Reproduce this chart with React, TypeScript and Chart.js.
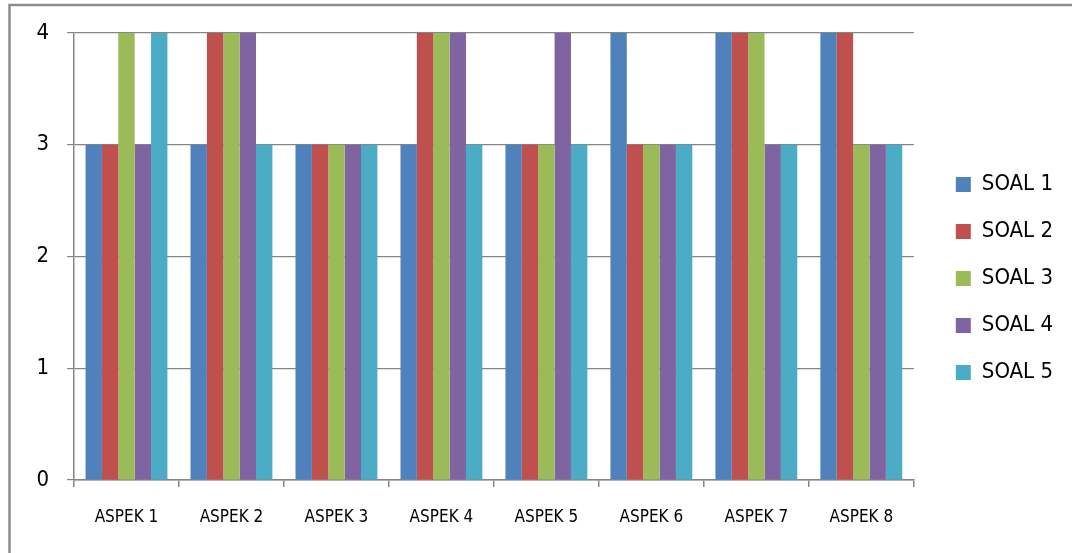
import React, { useEffect, useRef } from "react";
import { Chart, registerables } from "chart.js";

Chart.register(...registerables);

const categories = ["ASPEK 1", "ASPEK 2", "ASPEK 3", "ASPEK 4", "ASPEK 5", "ASPEK 6", "ASPEK 7", "ASPEK 8"];
const seriesNames = ["SOAL 1", "SOAL 2", "SOAL 3", "SOAL 4", "SOAL 5"];
const soal1 = [3, 3, 3, 3, 3, 4, 4, 4];
const soal2 = [3, 4, 3, 4, 3, 3, 4, 4];
const soal3 = [4, 4, 3, 4, 3, 3, 4, 3];
const soal4 = [3, 4, 3, 4, 4, 3, 3, 3];
const soal5 = [4, 3, 3, 3, 3, 3, 3, 3];
const yTicks = [0, 1, 2, 3, 4];

const colors = ["#4F81BD", "#C0504D", "#9BBB59", "#8064A2", "#4BACC6"];
const FONT = "'DejaVu Sans Condensed', 'Liberation Sans Narrow', sans-serif";
const W = 1072;
const H = 553;

const framePlugin = {
  id: "frame",
  beforeDraw(chart: any) {
    const ctx = chart.ctx;
    ctx.save();
    ctx.fillStyle = "#ffffff";
    ctx.fillRect(0, 0, chart.width, chart.height);
    ctx.strokeStyle = "#8c8c8c";
    ctx.lineWidth = 2.5;
    ctx.beginPath();
    ctx.moveTo(9.5, chart.height + 5);
    ctx.lineTo(9.5, 5);
    ctx.lineTo(chart.width + 5, 5);
    ctx.stroke();
    ctx.restore();
  },
};

export default function App() {
  const ref = useRef<HTMLCanvasElement | null>(null);

  useEffect(() => {
    if (!ref.current) return;
    const all = [soal1, soal2, soal3, soal4, soal5];
    const chart = new Chart(ref.current, {
      type: "bar",
      data: {
        labels: categories,
        datasets: all.map((d, i) => ({
          label: seriesNames[i],
          data: d,
          backgroundColor: colors[i],
          borderWidth: 0,
          categoryPercentage: 0.78,
          barPercentage: 1,
        })),
      },
      options: {
        animation: false,
        responsive: false,
        devicePixelRatio: 1,
        layout: { padding: { left: 0, top: 33, right: 9, bottom: 29 } },
        plugins: {
          tooltip: { enabled: false },
          legend: {
            position: "right",
            labels: {
              boxWidth: 15,
              boxHeight: 15,
              padding: 25,
              color: "#000",
              font: { family: FONT, size: 22 },
            },
          },
        },
        scales: {
          x: {
            type: "category",
            offset: true,
            grid: {
              offset: true,
              drawOnChartArea: false,
              drawTicks: true,
              tickLength: 7,
              color: "#868686",
              lineWidth: 1.5,
            },
            border: { display: true, color: "#868686", width: 1.5 },
            ticks: {
              color: "#000",
              padding: 20,
              maxRotation: 0,
              font: { family: FONT, size: 17 },
            },
            afterFit: (s: any) => {
              s.height = H - 29 - 480;
            },
          },
          y: {
            min: 0,
            max: 4,
            afterBuildTicks: (s: any) => {
              s.ticks = yTicks.map((v) => ({ value: v }));
            },
            grid: {
              color: "#868686",
              lineWidth: 1.2,
              drawTicks: true,
              tickLength: 7,
            },
            border: { display: true, color: "#868686", width: 1.5 },
            ticks: {
              color: "#000",
              padding: 18,
              font: { family: FONT, size: 22 },
            },
            afterFit: (s: any) => {
              s.width = 74;
            },
          },
          yR: {
            type: "linear",
            position: "right",
            display: true,
            grid: { display: false, drawTicks: false },
            border: { display: false },
            ticks: { display: false },
            afterFit: (s: any) => {
              s.width = 17;
            },
          },
        },
      },
      plugins: [framePlugin],
    });
    return () => chart.destroy();
  }, []);

  return (
    <div style={{ position: "absolute", left: 0, top: 0, width: W, height: H }}>
      <canvas ref={ref} width={W} height={H} style={{ display: "block", width: W, height: H }} />
    </div>
  );
}
